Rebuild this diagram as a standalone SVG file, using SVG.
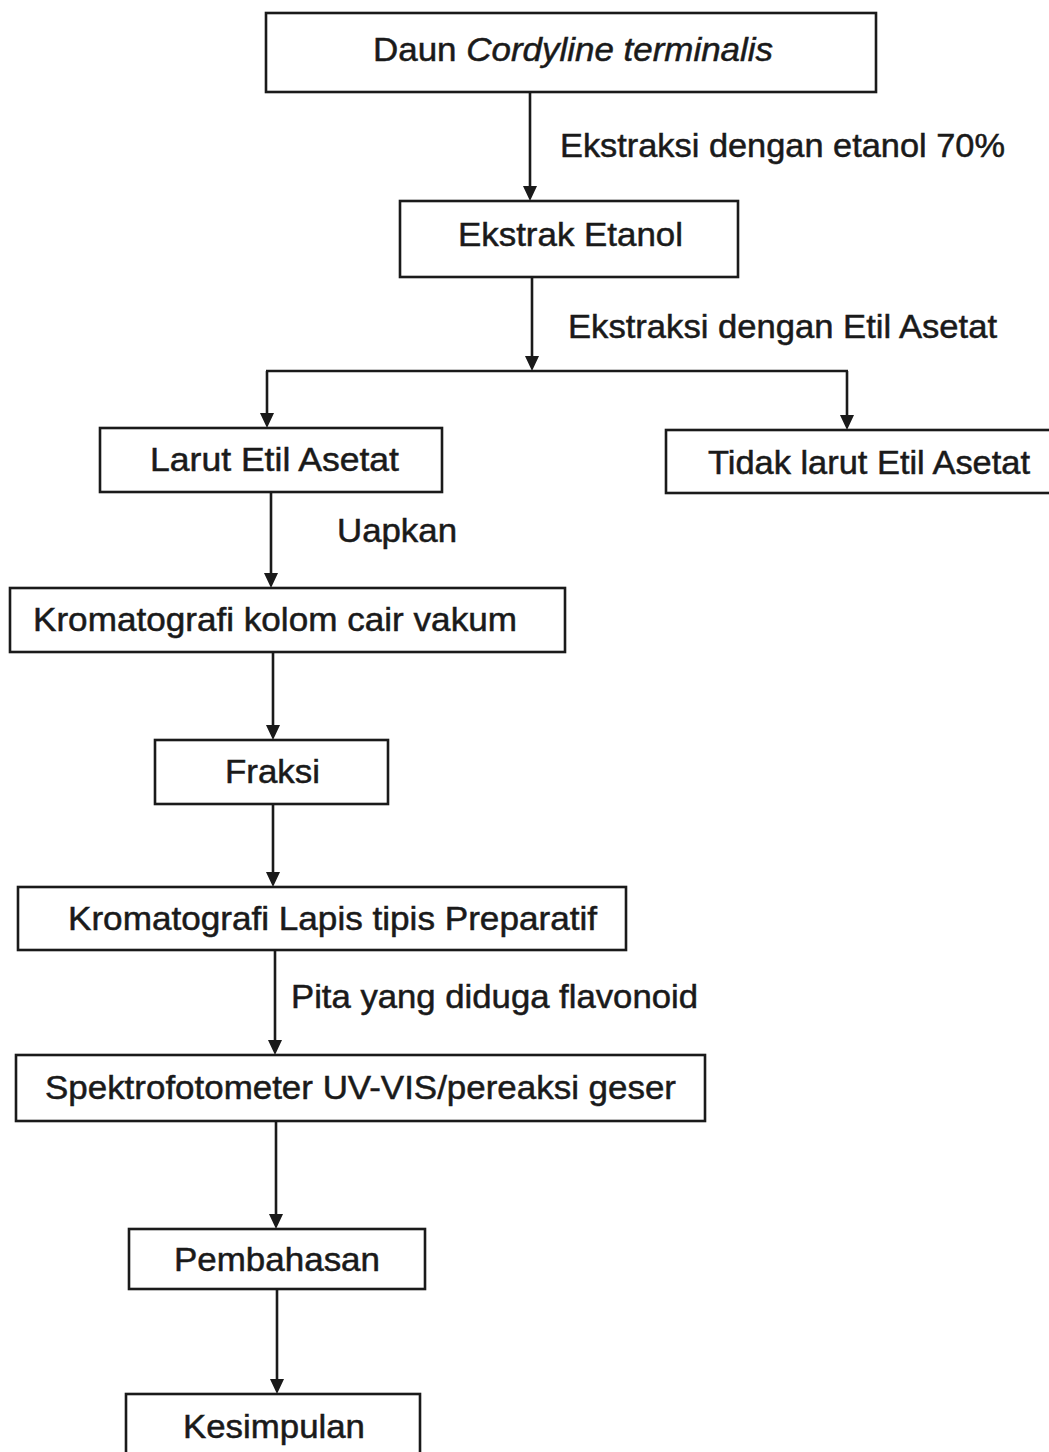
<svg xmlns="http://www.w3.org/2000/svg" width="1049" height="1452" viewBox="0 0 1049 1452">
<style>
.box{fill:#fff;stroke:#1a1a1a;stroke-width:2.6}
.t{font-family:"Liberation Sans",Arial,sans-serif;font-size:32.5px;fill:#1a1a1a;stroke:#1a1a1a;stroke-width:0.5}
.con{fill:none;stroke:#1a1a1a;stroke-width:2.6}
.ah{fill:#1a1a1a}
</style>
<rect width="1049" height="1452" fill="#fff"/>
<g id="connectors">
<line class="con" x1="530" y1="92" x2="530" y2="190"/>
<line class="con" x1="532" y1="277" x2="532" y2="360"/>
<line class="con" x1="266" y1="371" x2="848" y2="371"/>
<line class="con" x1="267" y1="371" x2="267" y2="418"/>
<line class="con" x1="847" y1="371" x2="847" y2="420"/>
<line class="con" x1="271" y1="492" x2="271" y2="578"/>
<line class="con" x1="273" y1="652" x2="273" y2="730"/>
<line class="con" x1="273" y1="804" x2="273" y2="877"/>
<line class="con" x1="275" y1="950" x2="275" y2="1045"/>
<line class="con" x1="276" y1="1121" x2="276" y2="1219"/>
<line class="con" x1="277" y1="1289" x2="277" y2="1384"/>
<path class="ah" d="M523,186 L537,186 L530,201 Z"/>
<path class="ah" d="M525,356 L539,356 L532,371 Z"/>
<path class="ah" d="M260,413 L274,413 L267,428 Z"/>
<path class="ah" d="M840,415 L854,415 L847,430 Z"/>
<path class="ah" d="M264,573 L278,573 L271,588 Z"/>
<path class="ah" d="M266,725 L280,725 L273,740 Z"/>
<path class="ah" d="M266,872 L280,872 L273,887 Z"/>
<path class="ah" d="M268,1040 L282,1040 L275,1055 Z"/>
<path class="ah" d="M269,1214 L283,1214 L276,1229 Z"/>
<path class="ah" d="M270,1379 L284,1379 L277,1394 Z"/>
<text class="t" x="560" y="157" textLength="445" lengthAdjust="spacingAndGlyphs">Ekstraksi dengan etanol 70%</text>
<text class="t" x="568" y="338" textLength="429" lengthAdjust="spacingAndGlyphs">Ekstraksi dengan Etil Asetat</text>
<text class="t" x="337" y="542" textLength="120" lengthAdjust="spacingAndGlyphs">Uapkan</text>
<text class="t" x="291" y="1008" textLength="407" lengthAdjust="spacingAndGlyphs">Pita yang diduga flavonoid</text>
</g>
<g id="n1"><rect class="box" x="266" y="13" width="610" height="79"/>
<text class="t" x="373" y="61" textLength="400" lengthAdjust="spacingAndGlyphs">Daun <tspan font-style="italic">Cordyline terminalis</tspan></text></g>
<g id="n2"><rect class="box" x="400" y="201" width="338" height="76"/>
<text class="t" x="458" y="246" textLength="225" lengthAdjust="spacingAndGlyphs">Ekstrak Etanol</text></g>
<g id="n3"><rect class="box" x="100" y="428" width="342" height="64"/>
<text class="t" x="150" y="471" textLength="249" lengthAdjust="spacingAndGlyphs">Larut Etil Asetat</text></g>
<g id="n4"><rect class="box" x="666" y="430" width="400" height="63"/>
<text class="t" x="708" y="474" textLength="322" lengthAdjust="spacingAndGlyphs">Tidak larut Etil Asetat</text></g>
<g id="n5"><rect class="box" x="10" y="588" width="555" height="64"/>
<text class="t" x="33" y="631" textLength="484" lengthAdjust="spacingAndGlyphs">Kromatografi kolom cair vakum</text></g>
<g id="n6"><rect class="box" x="155" y="740" width="233" height="64"/>
<text class="t" x="225" y="783" textLength="95" lengthAdjust="spacingAndGlyphs">Fraksi</text></g>
<g id="n7"><rect class="box" x="18" y="887" width="608" height="63"/>
<text class="t" x="68" y="930" textLength="529" lengthAdjust="spacingAndGlyphs">Kromatografi Lapis tipis Preparatif</text></g>
<g id="n8"><rect class="box" x="16" y="1055" width="689" height="66"/>
<text class="t" x="45" y="1099" textLength="631" lengthAdjust="spacingAndGlyphs">Spektrofotometer UV-VIS/pereaksi geser</text></g>
<g id="n9"><rect class="box" x="129" y="1229" width="296" height="60"/>
<text class="t" x="174" y="1271" textLength="206" lengthAdjust="spacingAndGlyphs">Pembahasan</text></g>
<g id="n10"><rect class="box" x="126" y="1394" width="294" height="80"/>
<text class="t" x="183" y="1438" textLength="182" lengthAdjust="spacingAndGlyphs">Kesimpulan</text></g>
</svg>
